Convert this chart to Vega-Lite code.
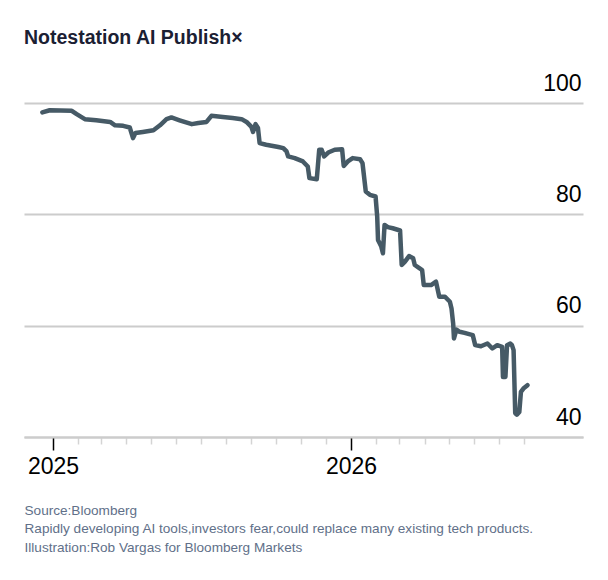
{
  "$schema": "https://vega.github.io/schema/vega-lite/v6.json",
  "autosize": "none",
  "width": 559,
  "height": 334,
  "padding": {"left": 24, "top": 103, "right": 25, "bottom": 143},
  "background": "white",
  "title": {
    "text": "Notestation AI Publish×",
    "anchor": "start",
    "frame": "group",
    "baseline": "alphabetic",
    "offset": 9,
    "font": "Liberation Sans",
    "fontSize": 19.5,
    "fontWeight": "bold",
    "color": "#1b2033"
  },
  "config": {
    "view": {"stroke": null},
    "font": "Liberation Sans"
  },
  "data": {
    "values": [
      {"date": "2024-12-19", "price": 98.3},
      {"date": "2024-12-28", "price": 98.7},
      {"date": "2025-01-24", "price": 98.6},
      {"date": "2025-01-30", "price": 98.0},
      {"date": "2025-02-09", "price": 97.1},
      {"date": "2025-02-23", "price": 96.9},
      {"date": "2025-03-12", "price": 96.6},
      {"date": "2025-03-18", "price": 96.0},
      {"date": "2025-03-28", "price": 95.9},
      {"date": "2025-04-05", "price": 95.6},
      {"date": "2025-04-09", "price": 93.7},
      {"date": "2025-04-12", "price": 94.6},
      {"date": "2025-04-21", "price": 94.8},
      {"date": "2025-05-04", "price": 95.1},
      {"date": "2025-05-12", "price": 96.0},
      {"date": "2025-05-20", "price": 97.1},
      {"date": "2025-05-26", "price": 97.4},
      {"date": "2025-06-05", "price": 96.9},
      {"date": "2025-06-20", "price": 96.2},
      {"date": "2025-06-28", "price": 96.4},
      {"date": "2025-07-08", "price": 96.6},
      {"date": "2025-07-14", "price": 97.7},
      {"date": "2025-07-28", "price": 97.5},
      {"date": "2025-08-09", "price": 97.3},
      {"date": "2025-08-20", "price": 97.1},
      {"date": "2025-08-26", "price": 96.6},
      {"date": "2025-09-01", "price": 95.7},
      {"date": "2025-09-03", "price": 94.8},
      {"date": "2025-09-06", "price": 96.2},
      {"date": "2025-09-09", "price": 95.5},
      {"date": "2025-09-11", "price": 92.8},
      {"date": "2025-09-19", "price": 92.5},
      {"date": "2025-10-04", "price": 92.1},
      {"date": "2025-10-10", "price": 91.9},
      {"date": "2025-10-14", "price": 91.3},
      {"date": "2025-10-16", "price": 90.4},
      {"date": "2025-10-24", "price": 90.1},
      {"date": "2025-11-03", "price": 89.5},
      {"date": "2025-11-09", "price": 88.6},
      {"date": "2025-11-11", "price": 86.5},
      {"date": "2025-11-20", "price": 86.3},
      {"date": "2025-11-23", "price": 91.6},
      {"date": "2025-11-26", "price": 91.6},
      {"date": "2025-11-29", "price": 90.4},
      {"date": "2025-12-04", "price": 91.1},
      {"date": "2025-12-12", "price": 91.6},
      {"date": "2025-12-21", "price": 91.7},
      {"date": "2025-12-23", "price": 88.7},
      {"date": "2025-12-28", "price": 89.5},
      {"date": "2026-01-03", "price": 90.1},
      {"date": "2026-01-12", "price": 89.9},
      {"date": "2026-01-15", "price": 89.2},
      {"date": "2026-01-19", "price": 84.1},
      {"date": "2026-01-24", "price": 83.5},
      {"date": "2026-01-31", "price": 83.2},
      {"date": "2026-02-02", "price": 79.6},
      {"date": "2026-02-03", "price": 75.4},
      {"date": "2026-02-07", "price": 74.2},
      {"date": "2026-02-09", "price": 73.0},
      {"date": "2026-02-11", "price": 78.1},
      {"date": "2026-02-15", "price": 77.7},
      {"date": "2026-02-21", "price": 77.5},
      {"date": "2026-03-02", "price": 77.1},
      {"date": "2026-03-04", "price": 70.9},
      {"date": "2026-03-08", "price": 71.5},
      {"date": "2026-03-13", "price": 72.5},
      {"date": "2026-03-18", "price": 72.1},
      {"date": "2026-03-20", "price": 70.9},
      {"date": "2026-03-26", "price": 70.3},
      {"date": "2026-03-29", "price": 70.0},
      {"date": "2026-03-31", "price": 67.3},
      {"date": "2026-04-09", "price": 67.3},
      {"date": "2026-04-15", "price": 67.9},
      {"date": "2026-04-19", "price": 65.2},
      {"date": "2026-04-26", "price": 65.2},
      {"date": "2026-05-02", "price": 64.3},
      {"date": "2026-05-04", "price": 63.1},
      {"date": "2026-05-06", "price": 60.4},
      {"date": "2026-05-07", "price": 57.7},
      {"date": "2026-05-10", "price": 59.3},
      {"date": "2026-05-14", "price": 58.9},
      {"date": "2026-05-20", "price": 58.7},
      {"date": "2026-05-30", "price": 58.3},
      {"date": "2026-06-02", "price": 56.5},
      {"date": "2026-06-09", "price": 56.3},
      {"date": "2026-06-17", "price": 56.8},
      {"date": "2026-06-23", "price": 55.9},
      {"date": "2026-06-29", "price": 56.5},
      {"date": "2026-07-05", "price": 56.2},
      {"date": "2026-07-06", "price": 50.8},
      {"date": "2026-07-09", "price": 50.8},
      {"date": "2026-07-11", "price": 56.5},
      {"date": "2026-07-15", "price": 56.8},
      {"date": "2026-07-17", "price": 56.5},
      {"date": "2026-07-19", "price": 55.6},
      {"date": "2026-07-21", "price": 44.3},
      {"date": "2026-07-23", "price": 44.0},
      {"date": "2026-07-26", "price": 44.5},
      {"date": "2026-07-28", "price": 48.1},
      {"date": "2026-07-31", "price": 48.7},
      {"date": "2026-08-05", "price": 49.3}
    ]
  },
  "mark": {
    "type": "line",
    "color": "#465a66",
    "strokeWidth": 4.5,
    "strokeJoin": "round",
    "strokeCap": "round"
  },
  "encoding": {
    "x": {
      "field": "date",
      "type": "temporal",
      "scale": {
        "type": "utc",
        "domain": [
          {"year": 2024, "month": 11, "date": 26, "hours": 12, "utc": true},
          {"year": 2026, "month": 10, "date": 12, "utc": true}
        ]
      },
      "axis": {
        "values": [
          {"year": 2025, "month": 1, "date": 1, "utc": true},
          {"year": 2025, "month": 2, "date": 1, "utc": true},
          {"year": 2025, "month": 3, "date": 1, "utc": true},
          {"year": 2025, "month": 4, "date": 1, "utc": true},
          {"year": 2025, "month": 5, "date": 1, "utc": true},
          {"year": 2025, "month": 6, "date": 1, "utc": true},
          {"year": 2025, "month": 7, "date": 1, "utc": true},
          {"year": 2025, "month": 8, "date": 1, "utc": true},
          {"year": 2025, "month": 9, "date": 1, "utc": true},
          {"year": 2025, "month": 10, "date": 1, "utc": true},
          {"year": 2025, "month": 11, "date": 1, "utc": true},
          {"year": 2025, "month": 12, "date": 1, "utc": true},
          {"year": 2026, "month": 1, "date": 1, "utc": true},
          {"year": 2026, "month": 2, "date": 1, "utc": true},
          {"year": 2026, "month": 3, "date": 1, "utc": true},
          {"year": 2026, "month": 4, "date": 1, "utc": true},
          {"year": 2026, "month": 5, "date": 1, "utc": true},
          {"year": 2026, "month": 6, "date": 1, "utc": true},
          {"year": 2026, "month": 7, "date": 1, "utc": true},
          {"year": 2026, "month": 8, "date": 1, "utc": true}
        ],
        "labelExpr": "utcmonth(datum.value) == 0 ? utcFormat(datum.value, '%Y') : ''",
        "labelFontSize": 23,
        "labelColor": "black",
        "labelPadding": 5,
        "labelFlush": false,
        "labelOverlap": false,
        "domainColor": "#cccccc",
        "domainWidth": 2,
        "tickSize": {"condition": {"test": "utcmonth(datum.value) == 0", "value": 13}, "value": 7},
        "tickColor": {"condition": {"test": "utcmonth(datum.value) == 0", "value": "black"}, "value": "#d4d4d4"},
        "tickWidth": 1.5,
        "grid": false,
        "title": [
          "Source:Bloomberg",
          "Rapidly developing AI tools,investors fear,could replace many existing tech products.",
          "Illustration:Rob Vargas for Bloomberg Markets"
        ],
        "titleAnchor": "start",
        "titleAlign": "left",
        "titleBaseline": "top",
        "titleFontSize": 13.6,
        "titleFontWeight": "normal",
        "titleColor": "#617089",
        "titleLineHeight": 18.5,
        "titlePadding": 25
      }
    },
    "y": {
      "field": "price",
      "type": "quantitative",
      "scale": {"domain": [40, 100], "nice": false, "zero": false},
      "axis": {
        "orient": "right",
        "values": [40, 60, 80, 100],
        "domain": false,
        "ticks": false,
        "grid": true,
        "gridColor": "#cccccc",
        "gridWidth": 2,
        "labelAlign": "right",
        "labelBaseline": "alphabetic",
        "labelOffset": -13,
        "labelPadding": -2,
        "labelFontSize": 23,
        "labelColor": "black",
        "title": null
      }
    }
  }
}
